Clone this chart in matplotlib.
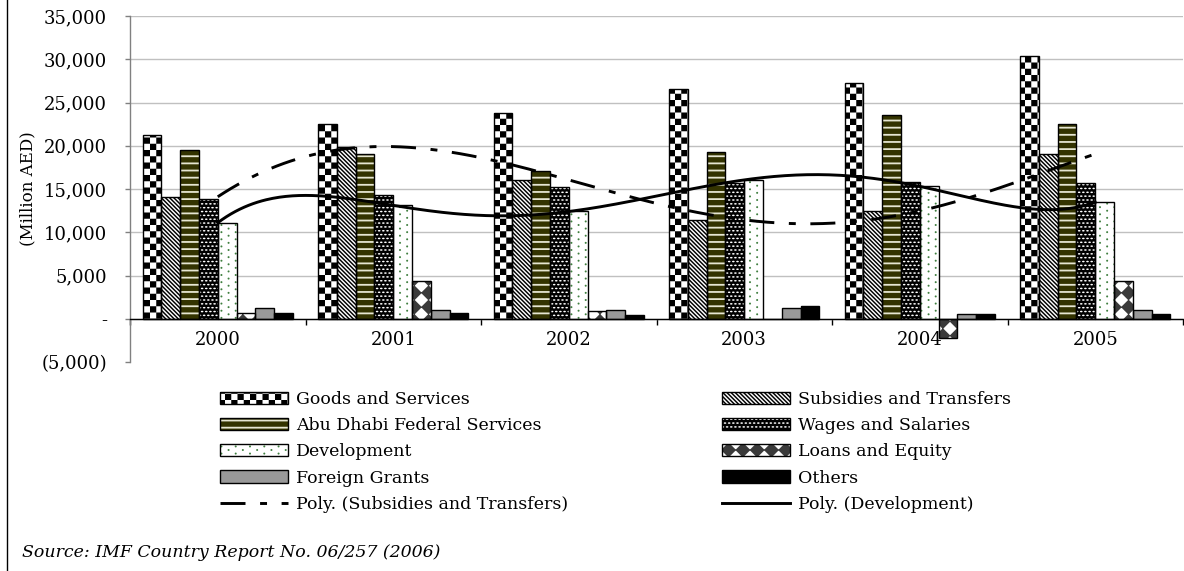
import warnings
warnings.filterwarnings("ignore")
import numpy as np
import matplotlib
matplotlib.use("Agg")
import matplotlib.pyplot as plt
import matplotlib.hatch as mhatch
from matplotlib.path import Path
from matplotlib.patches import Rectangle
from matplotlib.lines import Line2D
from matplotlib.legend_handler import HandlerTuple

# ---------------- data (Million AED) ----------------
years = ["2000", "2001", "2002", "2003", "2004", "2005"]
goods_services = [21200, 22500, 23800, 26600, 27200, 30400]
subsidies_transfers = [14100, 19900, 16050, 11430, 12470, 19050]
abu_dhabi_federal = [19500, 19050, 17100, 19250, 23560, 22500]
wages_salaries = [13900, 14300, 15200, 15740, 15850, 15670]
development = [11100, 13100, 12400, 16050, 15300, 13470]
loans_equity = [650, 4420, 850, 0, -2230, 4420]
foreign_grants = [1230, 1040, 1040, 1230, 580, 1040]
others = [650, 650, 460, 1500, 580, 580]

series_labels = ["Goods and Services", "Subsidies and Transfers",
                 "Abu Dhabi Federal Services", "Wages and Salaries",
                 "Development", "Loans and Equity", "Foreign Grants", "Others"]
trend_labels = ["Poly. (Subsidies and Transfers)", "Poly. (Development)"]
ytick_values = [-5000, 0, 5000, 10000, 15000, 20000, 25000, 30000, 35000]
ytick_labels = ["(5,000)", "-", "5,000", "10,000", "15,000", "20,000",
                "25,000", "30,000", "35,000"]
ylabel_text = "(Million AED)"
source_text = "Source: IMF Country Report No. 06/257 (2006)"

# ---------------- custom fill patterns (hatches) ----------------
DPI = 100
T = float(DPI)  # agg hatch tile = 72 pt = DPI pixels


def _rect(x0, y0, x1, y1):
    return np.array([[x0, y0], [x1, y0], [x1, y1], [x0, y1]]) / T


def _ellipse(cx, cy, a, b, m=12):
    t = np.linspace(0, 2 * np.pi, m, endpoint=False)
    return np.column_stack([cx + a * np.cos(t), cy + b * np.sin(t)]) / T


def _diamond(cx, cy, a, b):
    return np.array([[cx + a, cy], [cx, cy + b], [cx - a, cy], [cx, cy - b]]) / T


def _lattice(nx, ny, shape, stagger, yoff=0.0):
    px, py = T / nx, T / ny
    out = []
    for j in range(-1, ny + 2):
        off = px / 2 if (stagger and j % 2) else 0.0
        for i in range(-1, nx + 2):
            out.append(shape(i * px + off, j * py + yoff))
    return out


def _checker(n=16):
    s = T / n
    return [_rect(i * s, j * s, (i + 1) * s, (j + 1) * s)
            for i in range(n) for j in range(n) if (i + j) % 2 == 0]


def _diag(n=24, frac=0.5):
    p = T / n
    w = p * frac
    out = []
    for k in range(-2, 2 * n + 3):
        c = k * p
        out.append(np.array([[c + T, -T], [c + w + T, -T],
                             [c + w - 2 * T, 2 * T], [c - 2 * T, 2 * T]]) / T)
    return out


def _hstripes(n=14, h=1.8):
    p = T / n
    return [_rect(-2, j * p, T + 2, j * p + h) for j in range(n)]


HATCH_POLYS = {
    "k": _checker(16),
    "s": _diag(24, 0.5),
    "h": _hstripes(14, 1.8),
    "w": _lattice(24, 26, lambda x, y: _ellipse(x, y, 1.35, 0.8), True),
    "d": _lattice(7, 28, lambda x, y: _ellipse(x, y, 1.05, 1.05, 8), True),
    "l": _lattice(7, 7, lambda x, y: _diamond(x, y, 0.53 * T / 7, 0.53 * T / 7),
                  False, yoff=T / 14),
}


class PolyHatch(mhatch.HatchPatternBase):
    def __init__(self, hatch, density):
        self.polys = []
        for ch, polys in HATCH_POLYS.items():
            if ch in hatch:
                self.polys.extend(polys)
        self.num_vertices = sum(len(p) + 1 for p in self.polys)

    def set_vertices_and_codes(self, vertices, codes):
        i = 0
        for p in self.polys:
            n = len(p)
            vertices[i:i + n] = p
            vertices[i + n] = p[0]
            codes[i] = Path.MOVETO
            codes[i + 1:i + n] = Path.LINETO
            codes[i + n] = Path.CLOSEPOLY
            i += n + 1


mhatch._hatch_types.append(PolyHatch)

plt.rcParams["hatch.linewidth"] = 0.01
plt.rcParams["lines.scale_dashes"] = False
plt.rcParams["font.family"] = ["DejaVu Serif"]

styles = [
    dict(face="white", hatch="k", hc="black"),
    dict(face="white", hatch="s", hc="black"),
    dict(face="#333300", hatch="h", hc="#e6e6d2"),
    dict(face="black", hatch="w", hc="white"),
    dict(face="white", hatch="d", hc="#3f7f3f"),
    dict(face="white", hatch="l", hc="#3a3a3a"),
    dict(face="#999999", hatch=None, hc="#999999"),
    dict(face="black", hatch=None, hc="black"),
]

# ---------------- figure ----------------
W, H = 1184, 571
fig = plt.figure(figsize=(W / DPI, H / DPI), dpi=DPI)
fig.patch.set_facecolor("white")
ax = fig.add_axes([130 / W, 1 - 362 / H, (1183 - 130) / W, (362 - 16) / H])

values = [goods_services, subsidies_transfers, abu_dhabi_federal, wages_salaries,
          development, loans_equity, foreign_grants, others]
x = np.arange(len(years))
group = 0.856
w = group / len(values)
handles = []
for j, (vals, st) in enumerate(zip(values, styles)):
    pos = x - group / 2 + w * (j + 0.5)
    ax.bar(pos, vals, width=w, facecolor=st["face"], edgecolor=st["hc"],
           linewidth=0, hatch=st["hatch"], zorder=2)
    ax.bar(pos, vals, width=w, fill=False, edgecolor="black", linewidth=1.0, zorder=3)
    h1 = Rectangle((0, 0), 1, 1, facecolor=st["face"], edgecolor=st["hc"],
                   linewidth=0, hatch=st["hatch"])
    h2 = Rectangle((0, 0), 1, 1, fill=False, edgecolor="black", linewidth=1.0)
    handles.append((h1, h2))

# polynomial trend lines
xx = np.linspace(0, len(years) - 1, 400)
fit_sub = np.polyval(np.polyfit(x, subsidies_transfers, 5), xx)
fit_dev = np.polyval(np.polyfit(x, development, 5), xx)
ln_sub, = ax.plot(xx, fit_sub, color="black", lw=2.1,
                  linestyle=(0, (18, 10.5, 5, 10.5)), dash_capstyle="butt", zorder=5)
ln_dev, = ax.plot(xx, fit_dev, color="black", lw=2.1, zorder=5)

# axes
ax.set_xlim(-0.5, len(years) - 0.5)
ax.set_ylim(ytick_values[0], ytick_values[-1])
ax.set_yticks(ytick_values)
ax.set_yticklabels(ytick_labels)
ax.set_xticks(x)
ax.set_xticklabels(years)
ax.set_xticks(np.arange(-0.5, len(years), 1.0), minor=True)
for s in ("top", "right"):
    ax.spines[s].set_visible(False)
ax.spines["left"].set_color("#808080")
ax.spines["left"].set_linewidth(1.0)
ax.spines["bottom"].set_position(("data", 0))
ax.spines["bottom"].set_color("black")
ax.spines["bottom"].set_linewidth(1.0)
ax.spines["bottom"].set_zorder(4)
ax.tick_params(axis="y", direction="out", length=3.6, width=1.0, color="#808080",
               pad=13, labelsize=13)
ax.tick_params(axis="x", which="major", length=0, pad=9, labelsize=13)
ax.tick_params(axis="x", which="minor", length=4.3, width=1.0, direction="out",
               color="black")
ax.set_axisbelow(True)
ax.grid(axis="y", color="#c0c0c0", linewidth=1.0)
ax.yaxis.get_gridlines()[0].set_visible(False)
ax.set_ylabel(ylabel_text, fontsize=12)
ax.yaxis.set_label_coords((36 - 130) / (1183 - 130), 0.5)

# legend (two columns)
fs = 12.5
fs_px = fs * DPI / 72
leg_kw = dict(loc="upper left", frameon=False, borderpad=0, borderaxespad=0,
              handlelength=68 / fs_px, handleheight=12 / fs_px,
              handletextpad=8 / fs_px, labelspacing=0.53,
              prop={"family": "DejaVu Serif", "size": fs},
              handler_map={tuple: HandlerTuple(ndivide=1, pad=0)})
col1_h = [handles[0], handles[2], handles[4], handles[6], ln_sub]
col1_l = [series_labels[0], series_labels[2], series_labels[4], series_labels[6], trend_labels[0]]
col2_h = [handles[1], handles[3], handles[5], handles[7], ln_dev]
col2_l = [series_labels[1], series_labels[3], series_labels[5], series_labels[7], trend_labels[1]]
leg1 = fig.legend(col1_h, col1_l, bbox_to_anchor=(220 / W, 1 - 391 / H), **leg_kw)
leg2 = fig.legend(col2_h, col2_l, bbox_to_anchor=(722 / W, 1 - 391 / H), **leg_kw)

# source note and left frame line
fig.text(22 / W, 1 - 557 / H, source_text, fontsize=12.5, fontstyle="italic",
         ha="left", va="baseline")
fig.add_artist(Line2D([7 / W, 7 / W], [0, 1], color="black", lw=1.0))

fig.savefig("out.png", dpi=DPI)
